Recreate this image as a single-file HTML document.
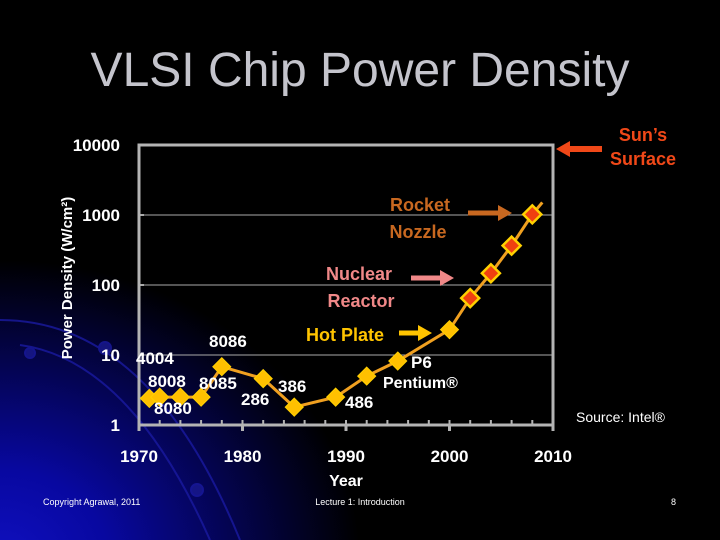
<!DOCTYPE html>
<html><head><meta charset="utf-8"><style>
body{margin:0;background:#000}
#slide{position:relative;width:720px;height:540px;overflow:hidden;background:radial-gradient(ellipse 360px 300px at 0px 560px,#1010c0 0%,#0808a0 30%,#040450 65%,#000 100%);font-family:"Liberation Sans",sans-serif}
</style></head><body>
<div id="slide">
<svg width="720" height="540" style="position:absolute;left:0;top:0">
<g fill="none" stroke="#1a1aa0" stroke-width="2" opacity="0.8">
<path d="M0 320 Q150 320 240 540"/>
<path d="M20 345 Q130 360 210 540"/>
<circle cx="105" cy="348" r="6" fill="#1a1a90"/>
<circle cx="30" cy="353" r="5" fill="#1a1a90"/>
<circle cx="197" cy="490" r="6" fill="#1a1a90"/>
</g>
<text x="360" y="86" text-anchor="middle" font-size="48" fill="#c4c4cc" font-family="Liberation Sans">VLSI Chip Power Density</text>
<g id="chart"></g>
</svg>
</div>
<script>
const years=[1971,1972,1974,1976,1978,1982,1985,1989,1992,1995,2000,2002,2004,2006,2008];
const values=[2.4,2.5,2.5,2.5,6.8,4.6,1.8,2.5,5,8.2,23,65,147,365,1020];
const hot=[false,false,false,false,false,false,false,false,false,false,false,true,true,true,true];
const yTicks=[1,10,100,1000,10000];
const xTicks=[1970,1980,1990,2000,2010];
const chipLabels=["4004","8008","8080","8085","8086","286","386","486","P6","Pentium®"];
const NS="http://www.w3.org/2000/svg";
const NARROW='"Liberation Sans Narrow","Liberation Sans",sans-serif';
const X0=139,X1=553,Y0=425,Y1=145;
function xs(y){return X0+(y-1970)/(2010-1970)*(X1-X0);}
function ys(v){return Y0-Math.log10(v)/4*(Y0-Y1);}
const g=document.getElementById('chart');
function mk(t,a,p){const e=document.createElementNS(NS,t);for(const k in a)e.setAttribute(k,a[k]);(p||g).appendChild(e);return e;}
function txt(s,x,y,a){const e=mk('text',Object.assign({x:x,y:y,'font-family':'Liberation Sans','font-weight':'bold'},a));e.textContent=s;return e;}
yTicks.slice(1,4).forEach(v=>{const l=mk('line',{x1:X0,x2:X1,y1:ys(v),y2:ys(v),stroke:'#aaa','stroke-width':1});


mk('line',{x1:X0,x2:X0+5,y1:ys(v),y2:ys(v),stroke:'#aaa','stroke-width':2});});
const box=mk('rect',{x:X0,y:Y1,width:X1-X0,height:Y0-Y1,fill:'none',stroke:'#b4b4b4','stroke-width':3});


for(let yr=1972;yr<2010;yr+=2){mk('line',{x1:xs(yr),x2:xs(yr),y1:Y0,y2:Y0-5,stroke:'#b4b4b4','stroke-width':2});}
xTicks.forEach(yr=>{mk('line',{x1:xs(yr),x2:xs(yr),y1:Y0-1,y2:Y0+6,stroke:'#b4b4b4','stroke-width':3});
const t=txt(String(yr),xs(yr),462,{'font-size':17,fill:'#fff','text-anchor':'middle','font-family':NARROW});

});
yTicks.forEach((v,i)=>{const t=txt(String(v),120,ys(v)+6,{'font-size':17,fill:'#fff','text-anchor':'end','font-family':NARROW});

});
const pts=years.map((y,i)=>xs(y)+','+ys(values[i]));
pts.push((xs(2008)+10)+','+(ys(1020)-12));
const pl=mk('polyline',{points:pts.join(' '),fill:'none',stroke:'#f0a020','stroke-width':3});


years.forEach((y,i)=>{const cx=xs(y),cy=ys(values[i]),r=9;
const d=mk('polygon',{points:`${cx},${cy-r} ${cx+r},${cy} ${cx},${cy+r} ${cx-r},${cy}`,fill:hot[i]?'#f04010':'#ffc000',stroke:'#ffd000','stroke-width':hot[i]?2.5:1});

});
const lab=[["4004",136,364],["8008",148,387],["8080",154,414],["8085",199,389],["8086",209,347],["286",241,405],["386",278,392],["486",345,408],["P6",411,368],["Pentium®",383,388]];
lab.forEach(a=>{const t=txt(a[0],a[1],a[2],{'font-size':17,fill:'#fff','font-family':a[0].length>4?'Liberation Sans':NARROW});
if(a[0].length>4)t.setAttribute('font-size',16);

});
function arrow(x1,x2,y,c,w,name){const e=mk('g',{});
const dir=x2>x1?1:-1;mk('line',{x1:x1,x2:x2-dir*12,y1:y,y2:y,stroke:c,'stroke-width':w},e);
mk('polygon',{points:`${x2},${y} ${x2-dir*14},${y-8} ${x2-dir*14},${y+8}`,fill:c},e);}
const ann=[["Rocket",420,211,'#c86820'],["Nozzle",418,238,'#c86820'],["Nuclear",359,280,'#f08888'],["Reactor",361,307,'#f08888'],["Hot Plate",345,341,'#ffc400'],["Sun’s",643,141,'#f04818'],["Surface",643,165,'#f04818']];
ann.forEach(a=>{const t=txt(a[0],a[1],a[2],{'font-size':18,fill:a[3],'text-anchor':'middle'});

});
arrow(468,512,213,'#c86820',5,'rocket-arrow');
arrow(411,454,278,'#f08888',5,'nuclear-arrow');
arrow(399,432,333,'#ffc400',5,'hotplate-arrow');
arrow(602,556,149,'#f04818',6,'sun-arrow');
const yt=txt('Power Density (W/cm²)',0,0,{'font-size':15,fill:'#fff','text-anchor':'middle',transform:'translate(72,278) rotate(-90)'});


const xt=txt('Year',346,486,{'font-size':16,fill:'#fff','text-anchor':'middle'});


const src=txt('Source: Intel®',576,422,{'font-size':14,fill:'#fff','font-weight':'normal'});


const cp=txt('Copyright Agrawal, 2011',43,505,{'font-size':9,fill:'#fff','font-weight':'normal'});


const lc=txt('Lecture 1: Introduction',360,505,{'font-size':9,fill:'#fff','font-weight':'normal','text-anchor':'middle'});


const pn=txt('8',676,505,{'font-size':9,fill:'#fff','font-weight':'normal','text-anchor':'end'});


</script>
</body></html>
